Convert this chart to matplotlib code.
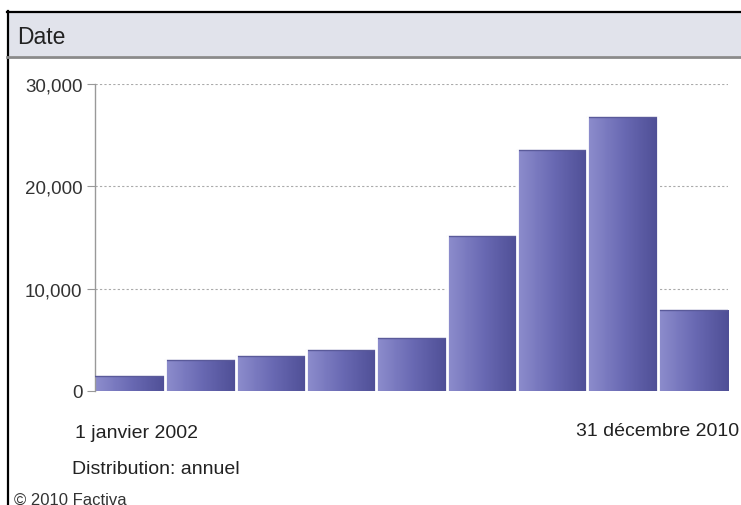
import matplotlib.pyplot as plt
import numpy as np
from matplotlib.colors import LinearSegmentedColormap
from matplotlib.patches import Rectangle

plt.rcParams['font.family'] = ['Liberation Sans', 'DejaVu Sans']

# yearly article counts, 2002 .. 2010
years = [2002, 2003, 2004, 2005, 2006, 2007, 2008, 2009, 2010]
counts = [1450, 3050, 3420, 4000, 5200, 15150, 23550, 26800, 7900]
yticks = [0, 10000, 20000, 30000]
ytick_labels = ['0', '10,000', '20,000', '30,000']

W, H = 741, 506
fig = plt.figure(figsize=(W / 100, H / 100), dpi=100)
fig.patch.set_facecolor('white')

def px(x, y):
    return x / W, 1 - y / H

# outer frame + header band
fig.add_artist(Rectangle(px(7, 57), (W - 7) / W, 44 / H, transform=fig.transFigure,
                         facecolor='#e1e3eb', edgecolor='none', zorder=0))
fig.add_artist(plt.Line2D([7 / W, 1], [1 - 12.5 / H] * 2, color='black', lw=1.6))
fig.add_artist(plt.Line2D([7.5 / W] * 2, [0, 1 - 12 / H], color='black', lw=1.6))
fig.add_artist(plt.Line2D([7 / W, 1], [1 - 58 / H] * 2, color='#8a8a8a', lw=2))
fig.text(*px(17, 37), 'Date', fontsize=16.5, va='center', ha='left', color='#222222')

l, t = px(95, 85)
r, b = px(728, 392)
ax = fig.add_axes([l, b, r - l, t - b])

cmap = LinearSegmentedColormap.from_list('bar', ['#8d8dcd', '#6a6ab4', '#4f4f96'])
grad = np.linspace(0, 1, 64).reshape(1, -1)
for i, c in enumerate(counts):
    rect = Rectangle((i - 0.5, 0), 1, c, facecolor='none', edgecolor='none')
    ax.add_patch(rect)
    im = ax.imshow(grad, cmap=cmap, aspect='auto', extent=(i - 0.5, i + 0.5, 0, c),
                   zorder=2, interpolation='bilinear')
    im.set_clip_path(rect)
    ax.plot([i - 0.5, i + 0.5], [c, c], color='#5a5a9a', lw=1, zorder=3)
    if i > 0:
        ax.axvline(i - 0.5, ymax=max(c, counts[i - 1]) / 30000, color='white', lw=2, zorder=4)
ax.set_xlim(-0.5, len(years) - 0.5)
ax.set_ylim(0, 30000)

for v in yticks[1:]:
    ax.axhline(v, color='#aaaaaa', lw=0.8, ls=(0, (2, 2)), zorder=1)

ax.set_yticks(yticks)
ax.set_yticklabels(ytick_labels, fontsize=13.5, color='#333333')
ax.tick_params(axis='y', length=6, color='#999999', pad=3)
ax.set_xticks([])
for s in ['top', 'right', 'bottom']:
    ax.spines[s].set_visible(False)
ax.spines['left'].set_color('#999999')
ax.spines['left'].set_linewidth(1)
ax.set_facecolor('none')

fig.text(*px(75, 434), '1 janvier 2002', fontsize=14, va='center', ha='left', color='#222222')
fig.text(*px(739, 432), '31 décembre 2010', fontsize=14, va='center', ha='right', color='#222222')
fig.text(*px(72, 470), 'Distribution: annuel', fontsize=14, va='center', ha='left', color='#222222')
fig.text(*px(14, 500), '© 2010 Factiva', fontsize=12, va='center', ha='left', color='#333333')

fig.savefig('out.png', dpi=100)
